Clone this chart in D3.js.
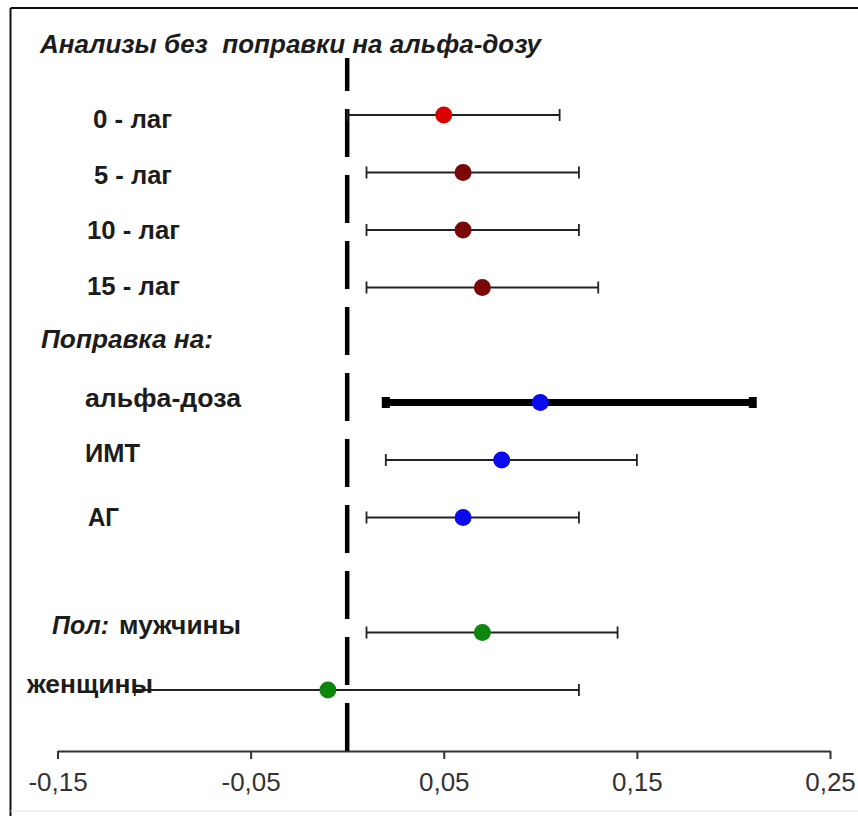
<!DOCTYPE html>
<html>
<head>
<meta charset="utf-8">
<script src="https://cdn.jsdelivr.net/npm/d3@7"></script>
<style>
  html, body { margin: 0; padding: 0; background: #fff; }
  svg { display: block; }
  text { font-family: "Liberation Sans", Arial, sans-serif; }
</style>
</head>
<body>
<svg id="chart" width="858" height="816"></svg>
<script>
// row slots from top to bottom (headers and a blank spacer included)
const slots = ["0 - лаг", "5 - лаг", "10 - лаг", "15 - лаг", "Поправка на:",
  "альфа-доза", "ИМТ", "АГ", "", "мужчины", "женщины"];

const categories = ["0 - лаг", "5 - лаг", "10 - лаг", "15 - лаг",
  "альфа-доза", "ИМТ", "АГ", "мужчины", "женщины"];
const estimates = [0.05, 0.06, 0.06, 0.07, 0.10, 0.08, 0.06, 0.07, -0.01];
const lower = [0.00, 0.01, 0.01, 0.01, 0.02, 0.02, 0.01, 0.01, -0.11];
const upper = [0.11, 0.12, 0.12, 0.13, 0.21, 0.15, 0.12, 0.14, 0.12];
const groups = ["lag0", "lag", "lag", "lag", "alpha", "adj", "adj", "sex", "sex"];

const tickValues = [-0.15, -0.05, 0.05, 0.15, 0.25];
const title = "Анализы без  поправки на альфа-дозу";

const width = 858, height = 816;
const svg = d3.select("#chart");

const data = categories.map((c, i) => ({
  name: c, est: estimates[i], lo: lower[i], hi: upper[i], group: groups[i]
}));

// scales
const x = d3.scaleLinear().domain([-0.15, 0.25]).range([57.5, 830]);
const y = d3.scalePoint().domain(d3.range(slots.length)).range([115, 690]);
const rowY = (name) => y(slots.indexOf(name));

const color = d3.scaleOrdinal()
  .domain(["lag0", "lag", "alpha", "adj", "sex"])
  .range(["#d80000", "#7a0808", "#0a0aee", "#0a0aee", "#0c860c"]);

// frame
svg.append("line").attr("x1", 10.5).attr("x2", width).attr("y1", 8).attr("y2", 8)
  .attr("stroke", "#111").attr("stroke-width", 2);
svg.append("line").attr("x1", 10.5).attr("x2", 10.5).attr("y1", 8).attr("y2", height)
  .attr("stroke", "#111").attr("stroke-width", 2);
svg.append("line").attr("x1", 10.5).attr("x2", width).attr("y1", 811).attr("y2", 811)
  .attr("stroke", "#e4e4e4").attr("stroke-width", 1);

// x axis, comma decimals and plain hyphen for negatives
const fmt = d3.formatLocale({
  decimal: ",", thousands: " ", grouping: [3], currency: ["", ""], minus: "-"
}).format(".2f");
const axisY = 751;
const gX = svg.append("g").attr("transform", "translate(0," + axisY + ")");
gX.call(d3.axisBottom(x).tickValues(tickValues).tickFormat(fmt)
    .tickSizeInner(8).tickSizeOuter(0).tickPadding(14));
gX.select(".domain").attr("stroke", "#333").attr("stroke-width", 2);
gX.selectAll(".tick line").attr("stroke", "#333").attr("stroke-width", 2);
gX.selectAll(".tick text")
  .attr("font-size", 26).attr("fill", "#333")
  .style("font-family", "'Liberation Sans', Arial, sans-serif");

// zero reference line, dashes counted from the axis upward
svg.append("line")
  .attr("x1", x(0)).attr("x2", x(0))
  .attr("y1", axisY).attr("y2", 58)
  .attr("stroke", "#000").attr("stroke-width", 4.5)
  .attr("stroke-dasharray", "48,18");

// error bars
const gBars = svg.append("g");
data.forEach((d) => {
  const cy = rowY(d.name);
  const thick = d.group === "alpha";
  const sw = thick ? 7 : 2;
  const cap = thick ? 11 : 12;
  const capW = thick ? 8 : 1.8;
  gBars.append("line")
    .attr("x1", x(d.lo)).attr("x2", x(d.hi))
    .attr("y1", cy).attr("y2", cy)
    .attr("stroke", thick ? "#000" : "#222").attr("stroke-width", sw);
  [d.lo, d.hi].forEach((v) => {
    gBars.append("line")
      .attr("x1", x(v)).attr("x2", x(v))
      .attr("y1", cy - cap / 2).attr("y2", cy + cap / 2)
      .attr("stroke", thick ? "#000" : "#222").attr("stroke-width", capW);
  });
});

// point estimates
svg.append("g").selectAll("circle")
  .data(data)
  .join("circle")
  .attr("cx", (d) => x(d.est))
  .attr("cy", (d) => rowY(d.name))
  .attr("r", 8.5)
  .attr("fill", (d) => color(d.group));

// labels (x, baseline offset from the row, target width)
const labelLayout = {
  "0 - лаг": [93, 13, 79],
  "5 - лаг": [94, 11, 78],
  "10 - лаг": [87, 9, 93],
  "15 - лаг": [87, 7, 93],
  "Поправка на:": [41, 3, 172],
  "альфа-доза": [85, 4, 156],
  "ИМТ": [85, 2, 55],
  "АГ": [88, 8, 31],
  "мужчины": [119, 1, 122],
  "женщины": [27, 3, 126]
};

const gLabels = svg.append("g").attr("fill", "#1c1c1c").attr("font-size", 26)
  .attr("font-weight", "bold");

Object.keys(labelLayout).forEach((name) => {
  const [lx, dy, w] = labelLayout[name];
  gLabels.append("text")
    .attr("x", lx).attr("y", rowY(name) + dy)
    .attr("font-style", name === "Поправка на:" ? "italic" : "normal")
    .attr("textLength", w).attr("lengthAdjust", "spacingAndGlyphs")
    .text(name);
});

gLabels.append("text")
  .attr("x", 52).attr("y", rowY("мужчины") + 1)
  .attr("font-style", "italic")
  .attr("textLength", 57).attr("lengthAdjust", "spacingAndGlyphs")
  .text("Пол:");

gLabels.append("text")
  .attr("x", 40).attr("y", 53)
  .attr("font-style", "italic")
  .attr("textLength", 501).attr("lengthAdjust", "spacingAndGlyphs")
  .style("white-space", "pre")
  .text(title);
</script>
</body>
</html>
